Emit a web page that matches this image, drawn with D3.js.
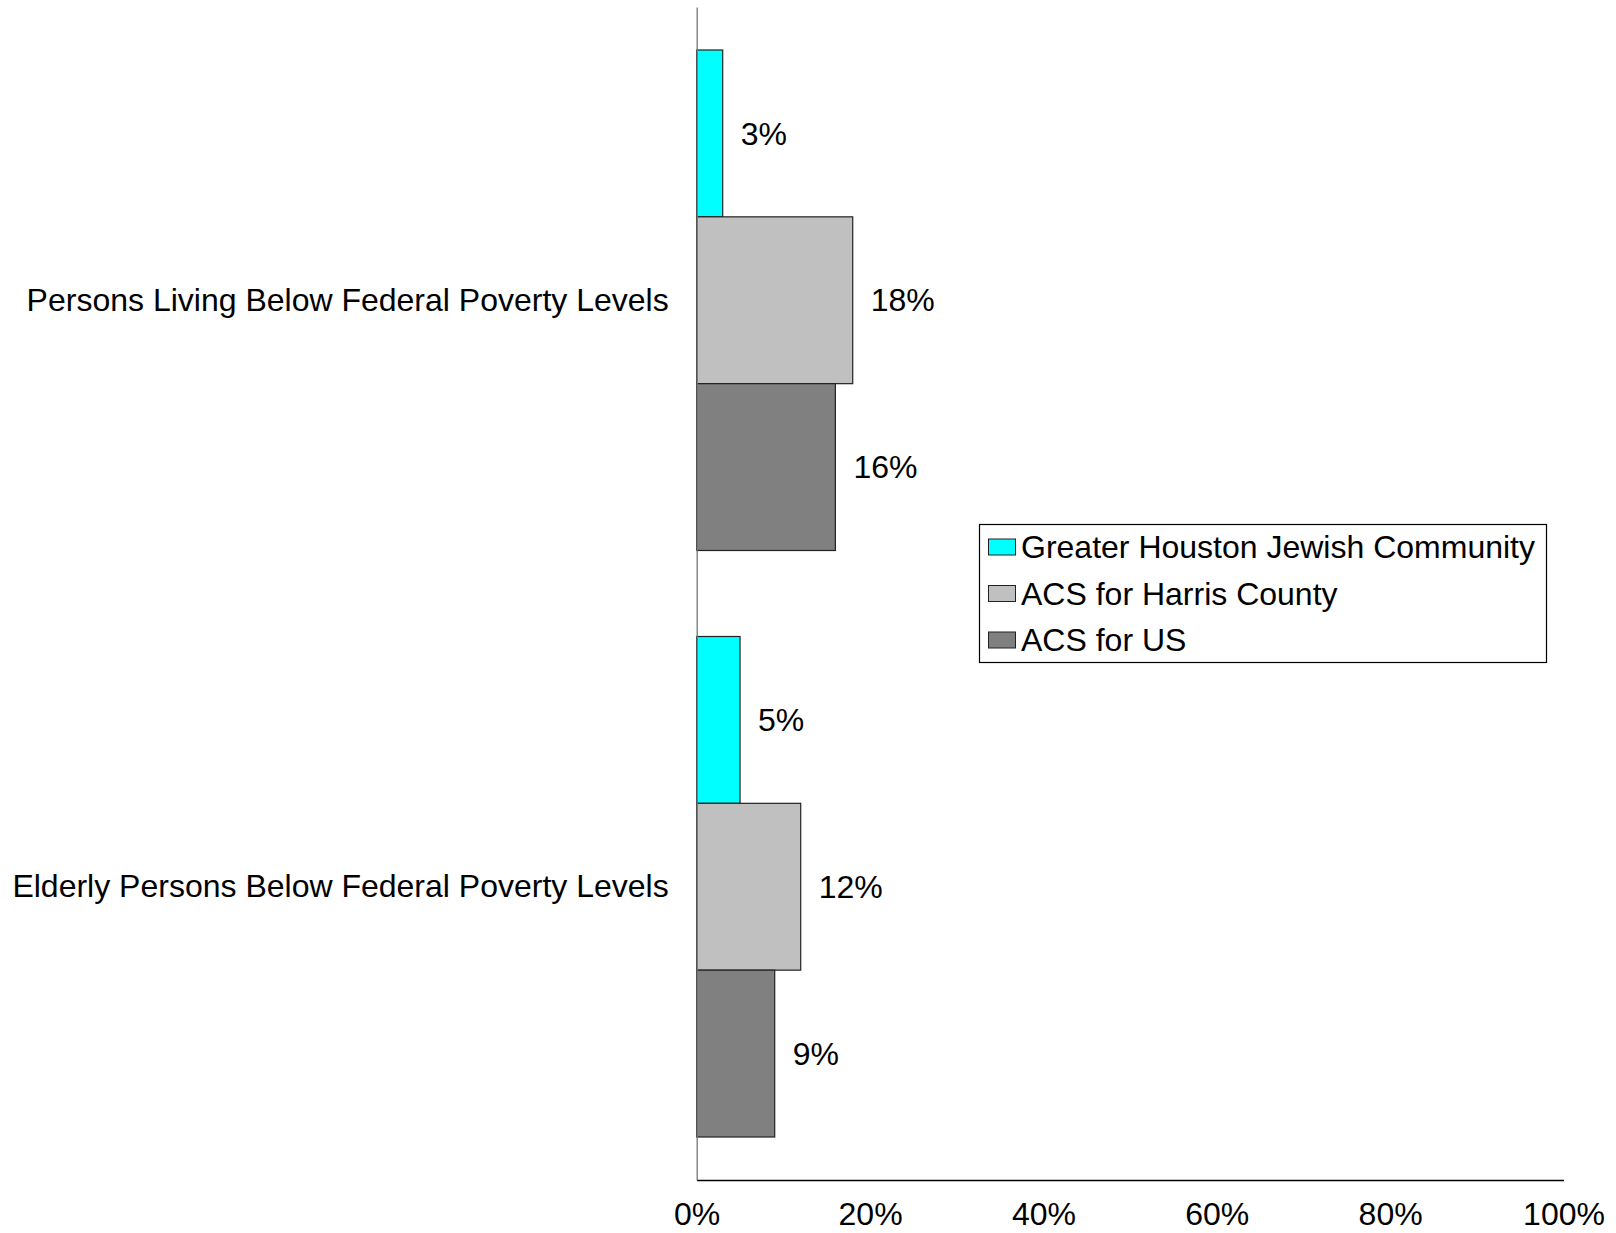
<!DOCTYPE html>
<html>
<head>
<meta charset="utf-8">
<script src="https://cdn.jsdelivr.net/npm/d3@7"></script>
<style>
  html, body { margin: 0; padding: 0; background: #fff; }
  svg { display: block; }
  text { font-family: "Liberation Sans", Arial, sans-serif; fill: #000; }
</style>
</head>
<body>
<svg id="chart" width="1616" height="1233"></svg>
<script>
const categories = ["Persons Living Below Federal Poverty Levels", "Elderly Persons Below Federal Poverty Levels"];
const seriesNames = ["Greater Houston Jewish Community", "ACS for Harris County", "ACS for US"];
const seriesColors = ["#00FFFF", "#C0C0C0", "#808080"];
const jewishValues = [0.03, 0.05];
const harrisValues = [0.18, 0.12];
const usValues = [0.16, 0.09];
const tickValues = [0, 0.2, 0.4, 0.6, 0.8, 1.0];
const tickLabels = ["0%", "20%", "40%", "60%", "80%", "100%"];

const seriesValues = [jewishValues, harrisValues, usValues];
const data = categories.map((c, i) => ({
  category: c,
  values: seriesNames.map((s, j) => ({ series: s, idx: j, value: seriesValues[j][i] }))
}));

const svg = d3.select("#chart");
const FS = 32;

const x = d3.scaleLinear().domain([0, 1]).range([696.7, 1563.5]);
const y = d3.scaleBand().domain(categories).range([7, 1180]).paddingInner(0).paddingOuter(0);
const gapFrac = 43 / y.bandwidth();
const inner = d3.scaleBand().domain(d3.range(seriesNames.length))
  .range([y.bandwidth() * gapFrac, y.bandwidth() * (1 - gapFrac)]).padding(0);

// bars
const groups = svg.selectAll("g.cat").data(data).enter().append("g")
  .attr("class", "cat")
  .attr("transform", d => `translate(0,${y(d.category)})`);

groups.selectAll("rect").data(d => d.values).enter().append("rect")
  .attr("x", x(0))
  .attr("y", d => inner(d.idx))
  .attr("width", d => x(d.value) - x(0))
  .attr("height", inner.bandwidth())
  .attr("fill", d => seriesColors[d.idx])
  .attr("stroke", "#222")
  .attr("stroke-width", 1.2);

groups.selectAll("text.val").data(d => d.values).enter().append("text")
  .attr("class", "val")
  .attr("x", d => x(d.value) + 18)
  .attr("y", d => inner(d.idx) + inner.bandwidth() / 2)
  .attr("dy", "0.35em")
  .style("font-size", FS + "px")
  .text(d => Math.round(d.value * 100) + "%");

// vertical axis line (category axis)
const yAxis = d3.axisLeft(y).tickSize(0).tickPadding(28).tickFormat(d => d);
const gy = svg.append("g").attr("transform", `translate(${x(0)},0)`).call(yAxis);
gy.select(".domain").attr("stroke", "#777").attr("stroke-width", 1.3);
gy.selectAll(".tick text")
  .style("font-size", FS + "px")
  .style("font-family", '"Liberation Sans", Arial, sans-serif')
  .attr("fill", "#000");

// horizontal value axis
const xAxis = d3.axisBottom(x).tickValues(tickValues).tickSize(0).tickSizeOuter(0)
  .tickPadding(22).tickFormat((d, i) => tickLabels[i]);
const gx = svg.append("g").attr("transform", `translate(0,1180)`).call(xAxis);
gx.select(".domain").attr("stroke", "#000").attr("stroke-width", 1.3);
gx.selectAll(".tick text")
  .style("font-size", FS + "px")
  .style("font-family", '"Liberation Sans", Arial, sans-serif')
  .attr("fill", "#000");

// legend
const legend = svg.append("g");
legend.append("rect")
  .attr("x", 979.5).attr("y", 524.5).attr("width", 567).attr("height", 138)
  .attr("fill", "#fff").attr("stroke", "#000").attr("stroke-width", 1.2);
const ly = d3.scalePoint().domain(d3.range(seriesNames.length)).range([547, 640]);
const items = legend.selectAll("g.item").data(seriesNames).enter().append("g")
  .attr("class", "item")
  .attr("transform", (d, i) => `translate(0,${ly(i)})`);
items.append("rect")
  .attr("x", 988.5).attr("y", -8).attr("width", 27).attr("height", 16)
  .attr("fill", (d, i) => seriesColors[i]).attr("stroke", "#222").attr("stroke-width", 1);
items.append("text")
  .attr("x", 1021).attr("y", 0).attr("dy", "0.35em")
  .style("font-size", FS + "px")
  .text(d => d);
</script>
</body>
</html>
